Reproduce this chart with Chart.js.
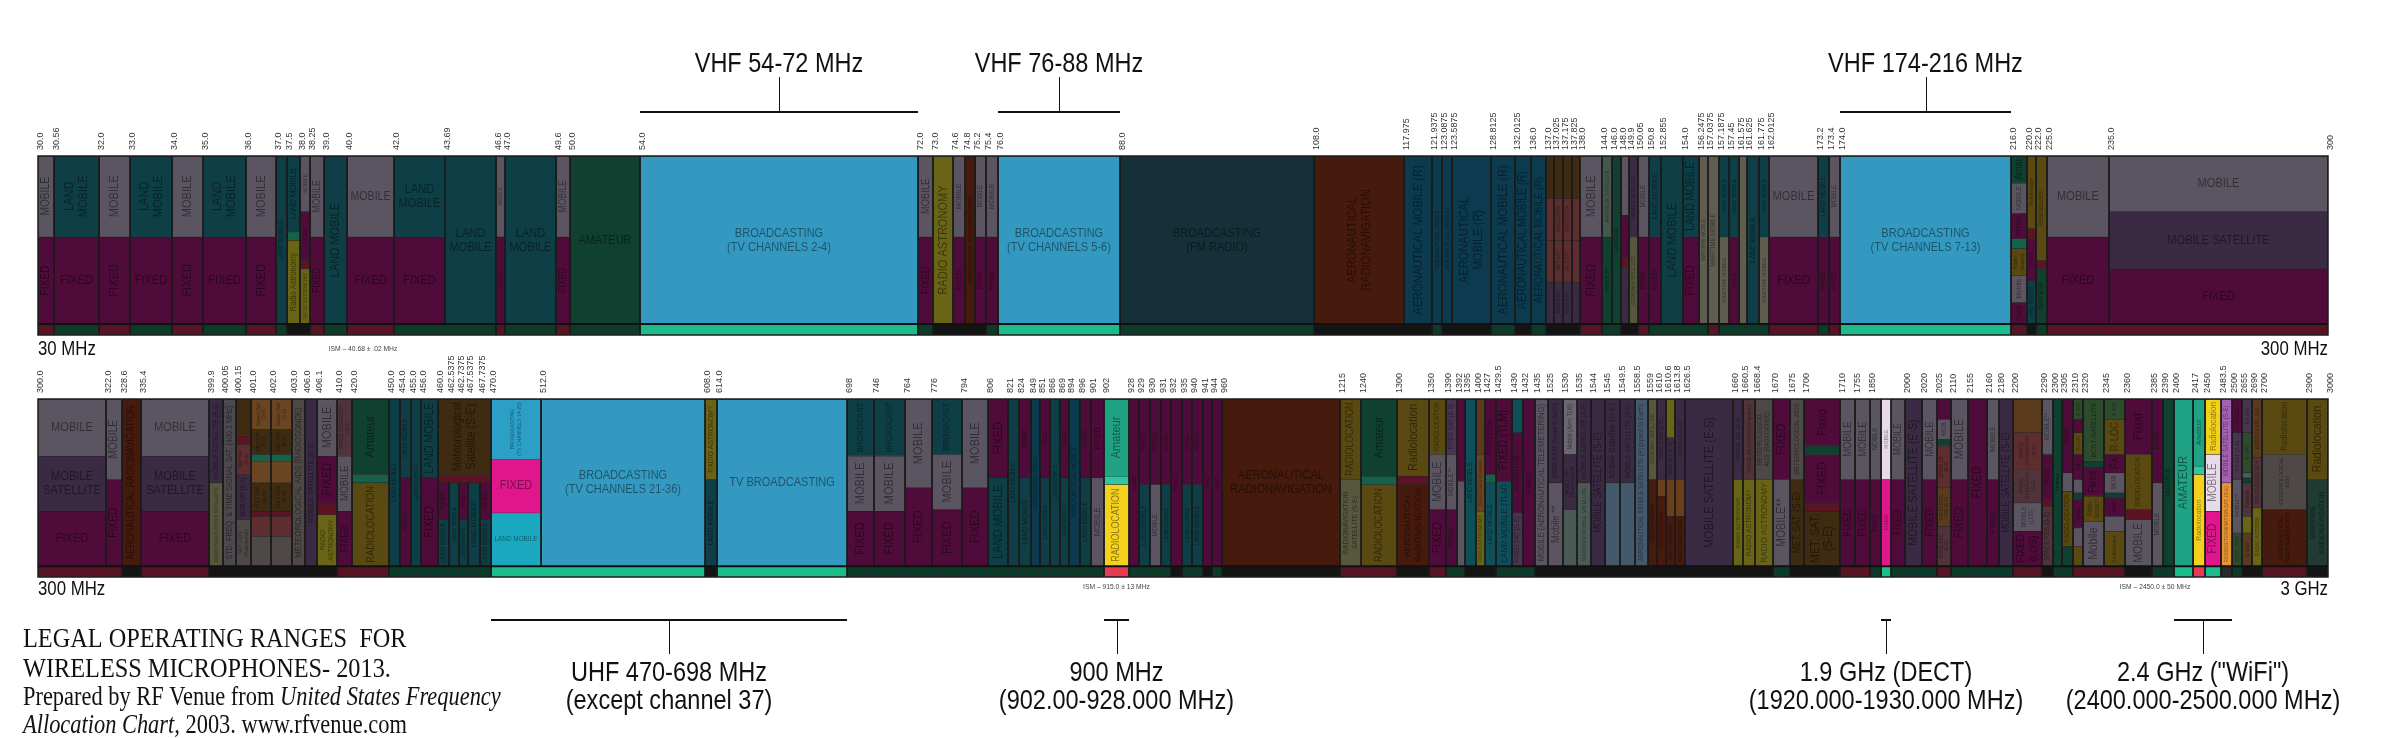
<!DOCTYPE html>
<html><head><meta charset="utf-8">
<script src="https://cdn.jsdelivr.net/npm/chart.js@4.4.1/dist/chart.umd.min.js"></script>
<style>
html,body{margin:0;padding:0;background:#fff;width:2400px;height:738px;overflow:hidden}
canvas{position:absolute;left:0;top:0}
</style></head><body>
<canvas id="top" width="2400" height="738"></canvas>
<canvas id="bot" width="2400" height="738"></canvas>
<script>
// ---------------- DATA ----------------
const topTickLabels = ['30.0','30.56','32.0','33.0','34.0','35.0','36.0','37.0','37.5','38.0','38.25','39.0','40.0','42.0','43.69','46.6','47.0','49.6','50.0','54.0','72.0','73.0','74.6','74.8','75.2','75.4','76.0','88.0','108.0','117.975','121.9375','123.0875','123.5875','128.8125','132.0125','136.0','137.0','137.025','137.175','137.825','138.0','144.0','146.0','148.0','149.9','150.05','150.8','152.855','154.0','156.2475','157.0375','157.1875','157.45','161.575','161.625','161.775','162.0125','173.2','173.4','174.0','216.0','220.0','222.0','225.0','235.0','300'];
const botTickLabels = ['300.0','322.0','328.6','335.4','399.9','400.05','400.15','401.0','402.0','403.0','406.0','406.1','410.0','420.0','450.0','454.0','455.0','456.0','460.0','462.5375','462.7375','467.5375','467.7375','470.0','512.0','608.0','614.0','698','746','764','776','794','806','821','824','849','851','866','869','894','896','901','902','928','929','930','931','932','935','940','941','944','960','1215','1240','1300','1350','1390','1392','1395','1400','1427','1429.5','1430','1432','1435','1525','1530','1535','1544','1545','1549.5','1558.5','1559','1610','1610.6','1613.8','1626.5','1660','1660.5','1668.4','1670','1675','1700','1710','1755','1850','2000','2020','2025','2110','2155','2160','2180','2200','2290','2300','2305','2310','2320','2345','2360','2385','2390','2400','2417','2450','2483.5','2500','2655','2690','2700','2900','3000'];

// allocation cells: [fromMHz, toMHz, shareTop, shareBottom, service, label]
const topCells = [
 [30,30.56,0,.48,'MOB','MOBILE'],[30,30.56,.48,1,'FIX','FIXED'],
 [30.56,32,0,.48,'LMB','LAND\nMOBILE'],[30.56,32,.48,1,'FIX','FIXED'],
 [32,33,0,.48,'MOB','MOBILE'],[32,33,.48,1,'FIX','FIXED'],
 [33,34,0,.48,'LMB','LAND\nMOBILE'],[33,34,.48,1,'FIX','FIXED'],
 [34,35,0,.48,'MOB','MOBILE'],[34,35,.48,1,'FIX','FIXED'],
 [35,36,0,.48,'LMB','LAND\nMOBILE'],[35,36,.48,1,'FIX','FIXED'],
 [36,37,0,.48,'MOB','MOBILE'],[36,37,.48,1,'FIX','FIXED'],
 [37,37.5,0,1,'LMB','LAND MOBILE'],
 [37.5,38,0,.45,'LMB','LAND MOBILE'],[37.5,38,.45,.5,'AMT2',''],[37.5,38,.5,1,'RAS','Radio Astronomy'],
 [38,38.25,0,.33,'MOB','MOBILE'],[38,38.25,.33,.62,'FIX','FIXED'],[38,38.25,.62,.67,'DRD',''],[38,38.25,.67,1,'RAS','RADIO ASTRONOMY'],
 [38.25,39,0,.48,'MOB','MOBILE'],[38.25,39,.48,1,'FIX','FIXED'],
 [39,40,0,1,'LMB','LAND MOBILE'],
 [40,42,0,.48,'MOB','MOBILE'],[40,42,.48,1,'FIX','FIXED'],
 [42,43.69,0,.48,'LMB','LAND\nMOBILE'],[42,43.69,.48,1,'FIX','FIXED'],
 [43.69,46.6,0,1,'LMB','LAND\nMOBILE'],
 [46.6,47,0,.48,'MOB','MOBILE'],[46.6,47,.48,1,'FIX','FIXED'],
 [47,49.6,0,1,'LMB','LAND\nMOBILE'],
 [49.6,50,0,.48,'MOB','MOBILE'],[49.6,50,.48,1,'FIX','FIXED'],
 [50,54,0,1,'AMT','AMATEUR'],
 [54,72,0,1,'BRC','BROADCASTING\n(TV CHANNELS 2-4)'],
 [72,73,0,.48,'MOB','MOBILE'],[72,73,.48,1,'FIX','FIXED'],
 [73,74.6,0,1,'RAS','RADIO ASTRONOMY'],
 [74.6,74.8,0,.48,'MOB','MOBILE'],[74.6,74.8,.48,1,'FIX','FIXED'],
 [74.8,75.2,0,1,'ARN','AERONAUTICAL RADIONAVIGATION'],
 [75.2,75.4,0,.48,'MOB','MOBILE'],[75.2,75.4,.48,1,'FIX','FIXED'],
 [75.4,76,0,.48,'MOB','MOBILE'],[75.4,76,.48,1,'FIX','FIXED'],
 [76,88,0,1,'BRC','BROADCASTING\n(TV CHANNELS 5-6)'],
 [88,108,0,1,'BFM','BROADCASTING\n(FM RADIO)'],
 [108,117.975,0,1,'ARN','AERONAUTICAL\nRADIONAVIGATION'],
 [117.975,121.9375,0,1,'AMR','AERONAUTICAL\nMOBILE (R)'],
 [121.9375,123.0875,0,1,'AMR','AERONAUTICAL MOBILE'],
 [123.0875,123.5875,0,1,'AMR','AERONAUTICAL MOBILE'],
 [123.5875,128.8125,0,1,'AMR','AERONAUTICAL\nMOBILE (R)'],
 [128.8125,132.0125,0,1,'AMR','AERONAUTICAL\nMOBILE (R)'],
 [132.0125,136,0,1,'AMR','AERONAUTICAL MOBILE (R)'],
 [136,137,0,1,'AMR','AERONAUTICAL MOBILE (R)'],
 [137,137.025,0,.25,'MTS',''],[137,137.025,.25,.5,'SPO','SPACE OPN'],[137,137.025,.5,.75,'SPO','MET SAT'],[137,137.025,.75,1,'MSA','MOB SAT'],
 [137.025,137.175,0,.25,'MTS',''],[137.025,137.175,.25,.5,'SPO','SPACE OPN'],[137.025,137.175,.5,.75,'SPO','MET SAT'],[137.025,137.175,.75,1,'MSA','MOB SAT'],
 [137.175,137.825,0,.25,'MTS',''],[137.175,137.825,.25,.5,'SPO','SPACE OPN'],[137.175,137.825,.5,.75,'SPO','MET SAT'],[137.175,137.825,.75,1,'MSA','MOB SAT'],
 [137.825,138,0,.25,'MTS',''],[137.825,138,.25,.5,'SPO','SPACE OPN'],[137.825,138,.5,.75,'SPO','MET SAT'],[137.825,138,.75,1,'MSA','MOB SAT'],
 [138,144,0,.48,'MOB','MOBILE'],[138,144,.48,1,'FIX','FIXED'],
 [144,146,0,.48,'ASA','AMATEUR SATELLITE'],[144,146,.48,1,'AMT','AMATEUR'],
 [146,148,0,1,'AMT','AMATEUR'],
 [148,149.9,0,.35,'MOB','MOBILE'],[148,149.9,.35,.6,'FIX','FIXED'],[148,149.9,.6,.66,'DRD',''],[148,149.9,.66,1,'MSA','MOBILE SAT'],
 [149.9,150.05,0,.48,'MSA','MOBILE SATELLITE'],[149.9,150.05,.48,1,'RNS','RADIONAV-SATELLITE'],
 [150.05,150.8,0,.48,'MOB','MOBILE'],[150.05,150.8,.48,1,'FIX','FIXED'],
 [150.8,152.855,0,.48,'LMB','LAND MOBILE'],[150.8,152.855,.48,1,'FIX','FIXED'],
 [152.855,154,0,1,'LMB','LAND MOBILE'],
 [154,156.2475,0,.48,'LMB','LAND MOBILE'],[154,156.2475,.48,1,'FIX','FIXED'],
 [156.2475,157.0375,0,1,'MAR','MARITIME MOBILE'],
 [157.0375,157.1875,0,1,'MAR','MARITIME MOBILE'],
 [157.1875,157.45,0,.48,'LMB','LAND MOBILE'],[157.1875,157.45,.48,1,'MAR','MARITIME MOBILE'],
 [157.45,161.575,0,.48,'LMB','LAND MOBILE'],[157.45,161.575,.48,1,'FIX','FIXED'],
 [161.575,161.625,0,1,'MAR','MARITIME MOBILE'],
 [161.625,161.775,0,1,'LMB','LAND MOBILE'],
 [161.775,162.0125,0,.48,'LMB','LAND MOBILE'],[161.775,162.0125,.48,1,'MAR','MARITIME MOBILE'],
 [162.0125,173.2,0,.48,'MOB','MOBILE'],[162.0125,173.2,.48,1,'FIX','FIXED'],
 [173.2,173.4,0,.48,'LMB','LAND MOBILE'],[173.2,173.4,.48,1,'FIX','FIXED'],
 [173.4,174,0,.48,'MOB','MOBILE'],[173.4,174,.48,1,'FIX','FIXED'],
 [174,216,0,1,'BRC','BROADCASTING\n(TV CHANNELS 7-13)'],
 [216,220,0,.16,'AMT','Amat'],[216,220,.16,.34,'MOB','MOBILE'],[216,220,.34,.49,'FIX','FIXED'],[216,220,.49,.55,'AMT2',''],[216,220,.55,.71,'RLC','Radio-\nlocation'],[216,220,.71,.87,'MOB','Mobile'],[216,220,.87,1,'FIX','Fixed'],
 [220,222,0,.43,'RLC','Radiolocation'],[220,222,.43,.49,'DRD',''],[220,222,.49,.74,'FIX','FIXED'],[220,222,.74,1,'LMB','LAND MOBILE'],
 [222,225,0,.62,'RLC','Radiolocation'],[222,225,.62,.67,'DRD',''],[222,225,.67,1,'AMT','AMATEUR'],
 [225,235,0,.48,'MOB','MOBILE'],[225,235,.48,1,'FIX','FIXED'],
 [235,300,0,.33,'MOB','MOBILE'],[235,300,.33,.67,'MSA','MOBILE SATELLITE'],[235,300,.67,1,'FIX','FIXED']
];
const botCells = [
 [300,322,0,.34,'MOB','MOBILE'],[300,322,.34,.67,'MSA','MOBILE\nSATELLITE'],[300,322,.67,1,'FIX','FIXED'],
 [322,328.6,0,.48,'MOB','MOBILE'],[322,328.6,.48,1,'FIX','FIXED'],
 [328.6,335.4,0,1,'ARN','AERONAUTICAL RADIONAVIGATION'],
 [335.4,399.9,0,.34,'MOB','MOBILE'],[335.4,399.9,.34,.67,'MSA','MOBILE\nSATELLITE'],[335.4,399.9,.67,1,'FIX','FIXED'],
 [399.9,400.05,0,.5,'MSA','MOBILE SATELLITE (E-S)'],[399.9,400.05,.5,1,'RNS','RADIONAVIGATION SATELLITE'],
 [400.05,400.15,0,1,'STD','STD. FREQ. & TIME SIGNAL SAT. (400.1 MHz)'],
 [400.15,401,0,.22,'MTS',''],[400.15,401,.22,.27,'DRD',''],[400.15,401,.27,.45,'SPO','Met-Sat\n(S-E)'],[400.15,401,.45,.72,'MSA','MOB SAT\n(E-S)'],[400.15,401,.72,1,'MET','MET AIDS\n(Radiosonde)'],
 [401,402,0,.18,'ORB','Space Opn\n(S-E)'],[401,402,.18,.33,'MTS','MET SAT\n(E-S)'],[401,402,.33,.37,'AMT2',''],[401,402,.37,.5,'ORB','EARTH\nEXPL SAT'],[401,402,.5,.67,'MTS','MET SAT\n(E-S)'],[401,402,.67,.7,'DRD',''],[401,402,.7,.82,'SPO','Met-Sat'],[401,402,.82,1,'MET','MET AIDS\n(Radiosonde)'],
 [402,403,0,.18,'ORB','Space Opn\n(S-E)'],[402,403,.18,.33,'MTS','MET SAT\n(E-S)'],[402,403,.33,.37,'AMT2',''],[402,403,.37,.5,'ORB','EARTH\nEXPL SAT'],[402,403,.5,.67,'MTS','MET SAT\n(E-S)'],[402,403,.67,.7,'DRD',''],[402,403,.7,.82,'SPO','Met-Sat'],[402,403,.82,1,'MET','MET AIDS\n(Radiosonde)'],
 [403,406,0,1,'MET','METEOROLOGICAL AIDS (RADIOSONDE)'],
 [406,406.1,0,1,'MSA','MOBILE SATELLITE (E-S)'],
 [406.1,410,0,.34,'MOB','MOBILE'],[406.1,410,.34,.62,'FIX','FIXED'],[406.1,410,.62,.69,'DRD',''],[406.1,410,.69,1,'RAS','RADIO\nASTRONOMY'],
 [410,420,0,.34,'SPR','SPACE RESEARCH\n(S-S)'],[410,420,.34,.67,'MOB','MOBILE'],[410,420,.67,1,'FIX','FIXED'],
 [420,450,0,.45,'AMT','Amateur'],[420,450,.45,.5,'AMT2',''],[420,450,.5,1,'RLC','RADIOLOCATION'],
 [450,454,0,1,'LMB','LAND MOBILE'],
 [454,455,0,.47,'LMB','LAND MOBILE'],[454,455,.47,1,'FIX','FIXED'],
 [455,456,0,1,'LMB','LAND MOBILE'],
 [456,460,0,.47,'LMB','LAND MOBILE'],[456,460,.47,1,'FIX','FIXED'],
 [460,470,0,.45,'MTS','Meteorological\nSatellite (S-E)'],[460,470,.45,.5,'DRD',''],
 [460,462.5375,.5,.72,'FIX','FIXED'],[460,462.5375,.72,1,'LMB','LAND MOBILE'],
 [462.5375,462.7375,.5,1,'LMB','LAND MOBILE'],
 [462.7375,467.5375,.5,.72,'FIX','FIXED'],[462.7375,467.5375,.72,1,'LMB','LAND MOBILE'],
 [467.5375,467.7375,.5,1,'LMB','LAND MOBILE'],
 [467.7375,470,.5,.72,'FIX','FIXED'],[467.7375,470,.72,1,'LMB','LAND MOBILE'],
 [470,512,0,.36,'BBR','BROADCASTING\n(TV CHANNELS 14-20)'],[470,512,.36,.68,'BFX','FIXED'],[470,512,.68,1,'BLM','LAND MOBILE'],
 [512,608,0,1,'BRC','BROADCASTING\n(TV CHANNELS 21-36)'],
 [608,614,0,.48,'RAS','RADIO ASTRONOMY'],[608,614,.48,1,'LMB','LAND MOBILE'],
 [614,698,0,1,'BRC','TV BROADCASTING'],
 [698,746,0,.34,'LMB','BROADCAST'],[698,746,.34,.67,'MOB','MOBILE'],[698,746,.67,1,'FIX','FIXED'],
 [746,764,0,.34,'LMB','BROADCAST'],[746,764,.34,.67,'MOB','MOBILE'],[746,764,.67,1,'FIX','FIXED'],
 [764,776,0,.53,'MOB','MOBILE'],[764,776,.53,1,'FIX','FIXED'],
 [776,794,0,.33,'LMB','BROADCAST'],[776,794,.33,.66,'MOB','MOBILE'],[776,794,.66,1,'FIX','FIXED'],
 [794,806,0,.53,'MOB','MOBILE'],[794,806,.53,1,'FIX','FIXED'],
 [806,821,0,.47,'FIX','FIXED'],[806,821,.47,1,'LMB','LAND MOBILE'],
 [821,824,0,1,'LMB','LAND MOBILE'],
 [824,849,0,.47,'FIX','FIXED'],[824,849,.47,1,'LMB','LAND MOBILE'],
 [849,851,0,1,'AMR','AERONAUTICAL MOBILE'],
 [851,866,0,.47,'FIX','FIXED'],[851,866,.47,1,'LMB','LAND MOBILE'],
 [866,869,0,1,'LMB','LAND MOBILE'],
 [869,894,0,.47,'FIX','FIXED'],[869,894,.47,1,'LMB','LAND MOBILE'],
 [894,896,0,1,'AMR','AERONAUTICAL MOBILE'],
 [896,901,0,.47,'FIX','FIXED'],[896,901,.47,1,'LMB','LAND MOBILE'],
 [901,902,0,.47,'FIX','FIXED'],[901,902,.47,1,'MOB','MOBILE'],
 [902,928,0,.46,'BAM','Amateur'],[902,928,.46,.51,'BAM2',''],[902,928,.51,1,'BRL','RADIOLOCATION'],
 [928,929,0,1,'FIX','FIXED'],
 [929,930,0,.51,'FIX','FIXED'],[929,930,.51,1,'LMB','LAND MOBILE'],
 [930,931,0,.51,'FIX','FIXED'],[930,931,.51,1,'MOB','MOBILE'],
 [931,932,0,.51,'FIX','FIXED'],[931,932,.51,1,'LMB','LAND MOBILE'],
 [932,935,0,1,'FIX','FIXED'],
 [935,940,0,.51,'FIX','FIXED'],[935,940,.51,1,'LMB','LAND MOBILE'],
 [940,941,0,.51,'FIX','FIXED'],[940,941,.51,1,'LMB','LAND MOBILE'],
 [941,944,0,1,'FIX','FIXED'],
 [944,960,0,1,'FIX','FIXED'],
 [960,1215,0,1,'ARN','AERONAUTICAL\nRADIONAVIGATION'],
 [1215,1240,0,.48,'RLC','RADIOLOCATION'],[1215,1240,.48,1,'RNS','RADIONAVIGATION\nSATELLITE (S-E)'],
 [1240,1300,0,.46,'AMT','Amateur'],[1240,1300,.46,.51,'AMT2',''],[1240,1300,.51,1,'RLC','RADIOLOCATION'],
 [1300,1350,0,.46,'RLC','Radiolocation'],[1300,1350,.46,.51,'DRD',''],[1300,1350,.51,1,'ARN','AERONAUTICAL\nRADIONAVIGATION'],
 [1350,1390,0,.33,'RLC','RADIOLOCATION'],[1350,1390,.33,.66,'MOB','MOBILE'],[1350,1390,.66,1,'FIX','FIXED'],
 [1390,1392,0,.33,'FXS','FIXED SAT (E-S)'],[1390,1392,.33,.66,'MOB','MOBILE **'],[1390,1392,.66,1,'FIX','FIXED'],
 [1392,1395,0,.49,'FIX','FIXED'],[1392,1395,.49,1,'MOB','MOBILE **'],
 [1395,1400,0,1,'LMB2','LAND MOBILE'],
 [1400,1427,0,.33,'EES','EARTH EXPL SAT (Passive)'],[1400,1427,.33,.67,'ORB','SPACE RES (Passive)'],[1400,1427,.67,1,'RAS','RADIO ASTRONOMY'],
 [1427,1429.5,0,.45,'FIX','FIXED (TLM)'],[1427,1429.5,.45,.5,'AMT2',''],[1427,1429.5,.5,1,'LMB2','LAND MOBILE'],
 [1429.5,1430,0,.49,'FIX','FIXED (TLM)'],[1429.5,1430,.49,1,'LMB2','LAND MOBILE (TLM)'],
 [1430,1432,0,.2,'LMB2',''],[1430,1432,.2,.68,'FIX','FIXED (TLM)'],[1430,1432,.68,1,'FXS','FIXED SAT (S-E)'],
 [1432,1435,0,1,'FIX','FIXED'],
 [1435,1525,0,1,'MOB','MOBILE (AERONAUTICAL TELEMETERING)'],
 [1525,1530,0,.5,'MSA','MOBILE SAT\n(Space to Earth)'],[1525,1530,.5,1,'MOB','Mobile **'],
 [1530,1535,0,.33,'MOBL','Mobile\n(Aero TLM)'],[1530,1535,.33,.66,'MSA','MOBILE SAT\n(Space to Earth)'],[1530,1535,.66,1,'MMS','MARITIME MOBILE SATELLITE'],
 [1535,1544,0,.5,'MSA','MOBILE SATELLITE (S-E)'],[1535,1544,.5,1,'MMS','MARITIME MOBILE SATELLITE'],
 [1544,1545,0,1,'MSA','MOBILE SATELLITE (S-E)'],
 [1545,1549.5,0,.5,'MSA','Mobile Satellite (S-E)'],[1545,1549.5,.5,1,'AMS','AERONAUTICAL MOBILE SATELLITE (R)'],
 [1549.5,1558.5,0,.5,'MSA','MOBILE SATELLITE (S-E)'],[1549.5,1558.5,.5,1,'AMS','AERONAUTICAL MOBILE SATELLITE (R)'],
 [1558.5,1559,0,1,'AMS','AERONAUTICAL MOBILE SATELLITE (R) (space to Earth)'],
 [1559,1610,0,.48,'RNS','RADIONAV SATELLITE'],[1559,1610,.48,1,'ARN','AERO RADIONAV'],
 [1610,1610.6,0,.48,'MSA','MOBILE SAT (E-S)'],[1610,1610.6,.48,.58,'RDS',''],[1610,1610.6,.58,1,'ARN','AERO RADIONAV'],
 [1610.6,1613.8,0,.23,'RAS','RADIO ASTRONOMY'],[1610.6,1613.8,.23,.48,'MSA','MOB SAT (E-S)'],[1610.6,1613.8,.48,.7,'RDS','RADIODET SAT (E-S)'],[1610.6,1613.8,.7,1,'ARN','AERO RADIONAV'],
 [1613.8,1626.5,0,.48,'MSA','MOB SAT (E-S)'],[1613.8,1626.5,.48,.7,'RDS','RADIODET SAT (E-S)'],[1613.8,1626.5,.7,1,'ARN','AERO RADIONAV'],
 [1626.5,1660,0,1,'MSA','MOBILE SATELLITE (E-S)'],
 [1660,1660.5,0,.48,'MSA','MOBILE SAT (E-S)'],[1660,1660.5,.48,1,'RAS','RADIO ASTRONOMY'],
 [1660.5,1668.4,0,.48,'SPR','SPACE RESEARCH (Passive)'],[1660.5,1668.4,.48,1,'RAS','RADIO ASTRONOMY'],
 [1668.4,1670,0,.48,'MET','METEOROLOGICAL\nAIDS (RADIOSONDE)'],[1668.4,1670,.48,1,'RAS','RADIO ASTRONOMY'],
 [1670,1675,0,.48,'FIX','FIXED'],[1670,1675,.48,1,'MOB','MOBILE**'],
 [1675,1700,0,.48,'MET','METEOROLOGICAL\nAIDS'],[1675,1700,.48,1,'MTS','MET. SAT. (S-E)'],
 [1700,1710,0,.28,'FIX','Fixed'],[1700,1710,.28,.33,'AMT',''],[1700,1710,.33,.62,'FIX','FIXED'],[1700,1710,.62,.67,'DRD',''],[1700,1710,.67,1,'MTS','MET. SAT.\n(S-E)'],
 [1710,1755,0,.48,'MOB','MOBILE'],[1710,1755,.48,1,'FIX','FIXED'],
 [1755,1850,0,.48,'MOB','MOBILE'],[1755,1850,.48,1,'FIX','FIXED'],
 [1850,1920,0,.48,'MOB','MOBILE'],[1850,1920,.48,1,'FIX','FIXED'],
 [1920,1930,0,.48,'BMO','MOBILE'],[1920,1930,.48,1,'BFX','FIXED'],
 [1930,2000,0,.48,'MOB','MOBILE'],[1930,2000,.48,1,'FIX','FIXED'],
 [2000,2020,0,1,'MSA','MOBILE SATELLITE (E-S)'],
 [2020,2025,0,.48,'MOB','MOBILE'],[2020,2025,.48,1,'FIX','FIXED'],
 [2025,2110,0,.12,'FIX',''],[2025,2110,.12,.24,'MOB','MOB'],[2025,2110,.24,.28,'AMT',''],[2025,2110,.28,.53,'SPO','SPACE OP.\n(E-S)'],[2025,2110,.53,.76,'EES','EARTH EXPL.\nSAT. (E-S)'],[2025,2110,.76,1,'SPR','SPACE RES.\n(E-S)'],
 [2110,2155,0,.48,'MOB','MOBILE'],[2110,2155,.48,1,'FIX','FIXED'],
 [2155,2160,0,1,'FIX','FIXED'],
 [2160,2180,0,.48,'MOB','MOBILE'],[2160,2180,.48,1,'FIX','FIXED'],
 [2180,2200,0,1,'MSA','MOBILE SATELLITE (S-E)'],
 [2200,2290,0,.2,'EES','EARTH\nEXPLORATION\nSAT. (S-S)'],[2200,2290,.2,.42,'SPO','SPACE\nOPERATION\n(S-E)'],[2200,2290,.42,.62,'SPR','SPACE\nRESEARCH\n(S-E)'],[2200,2290,.62,.79,'MOB','MOBILE\n(LOS)'],[2200,2290,.79,1,'FIX','FIXED\n(LOS)'],
 [2290,2300,0,.33,'MOB','MOBILE**'],[2290,2300,.33,.6,'FIX','FIXED'],[2290,2300,.6,.64,'DRD',''],[2290,2300,.64,1,'SPR','SPACE RES (S-E)'],
 [2300,2305,0,1,'AMT','Amateur'],
 [2305,2310,0,.44,'FIX','FIXED'],[2305,2310,.44,.55,'MOB','MOBILE**'],[2305,2310,.55,.88,'RLC','RADIOLOCATION'],[2305,2310,.88,1,'AMT','Amateur'],
 [2310,2320,0,.12,'BST','B-SAT'],[2310,2320,.12,.2,'FIX',''],[2310,2320,.2,.33,'RLC','R-LOC'],[2310,2320,.33,.48,'FIX','FX'],[2310,2320,.48,.56,'MOB','MOB'],[2310,2320,.56,.6,'AMT',''],[2310,2320,.6,.77,'FIX','Fixed'],[2310,2320,.77,.88,'MOB','Mobile'],[2310,2320,.88,1,'RLC','Radiolocation'],
 [2320,2345,0,.37,'BST','BCST-SATELLITE'],[2320,2345,.37,.41,'AMT',''],[2320,2345,.41,.58,'FIX','Fixed'],[2320,2345,.58,.73,'RLC','Radio-\nlocation'],[2320,2345,.73,1,'MOB','Mobile'],
 [2345,2360,0,.12,'BST','B-SAT'],[2345,2360,.12,.33,'RLC','R-LOC'],[2345,2360,.33,.44,'FIX','FX'],[2345,2360,.44,.56,'MOB','MOB'],[2345,2360,.56,.59,'AMT',''],[2345,2360,.59,.7,'FIX','Fixed'],[2345,2360,.7,.79,'MOB','Mobile'],[2345,2360,.79,1,'RLC','Radiolocation'],
 [2360,2385,0,.33,'FIX','Fixed'],[2360,2385,.33,.66,'RLC','RADIOLOCATION'],[2360,2385,.66,.72,'DRD',''],[2360,2385,.72,1,'MOB','MOBILE'],
 [2385,2390,0,.5,'FIX','FIXED'],[2385,2390,.5,1,'MOB','MOBILE'],
 [2390,2400,0,1,'AMT','AMATEUR'],
 [2400,2417,0,1,'BAM','AMATEUR'],
 [2417,2450,0,.4,'BAM','Amateur'],[2417,2450,.4,.45,'BAM2',''],[2417,2450,.45,1,'BRL','Radiolocation'],
 [2450,2483.5,0,.33,'BRL','Radiolocation'],[2450,2483.5,.33,.67,'BMO','MOBILE'],[2450,2483.5,.67,1,'BFX','FIXED'],
 [2483.5,2500,0,.5,'BMS','MOBILE SATELLITE (S-E)'],[2483.5,2500,.5,1,'BRD','RADIODETERMINATION SAT. (S-E)'],
 [2500,2655,0,.2,'FIX','FIXED'],[2500,2655,.2,.48,'FXS','FX SAT (S-E)'],[2500,2655,.48,.8,'MOB','MOBILE**'],[2500,2655,.8,1,'BST','BCST - SAT'],
 [2655,2690,0,.2,'FXS','FX SAT'],[2655,2690,.2,.44,'BST','B-SAT'],[2655,2690,.44,.47,'MOB',''],[2655,2690,.47,.5,'AMT',''],[2655,2690,.5,.7,'SPR','Passive'],[2655,2690,.7,.8,'RAS',''],[2655,2690,.8,1,'EES','E-Expl'],
 [2690,2700,0,.35,'EES','EARTH EXPL SAT'],[2690,2700,.35,.65,'SPR','SPACE RESEARCH'],[2690,2700,.65,1,'RAS','RADIO ASTRON'],
 [2700,2900,0,.33,'RLC','Radiolocation'],[2700,2900,.33,.66,'MET','METEOROLOGICAL\nAIDS'],[2700,2900,.66,1,'ARN','AERONAUTICAL\nRADIONAVIGATION'],
 [2900,3000,0,.48,'RLC','Radiolocation'],[2900,3000,.48,1,'MRN','MARITIME\nRADIONAVIGATION']
];
// activity strip under each band: [from, to, category]
const topStripBands = [[30,30.56,'DR'],[30.56,32,'DG'],[32,33,'DR'],[33,34,'DG'],[34,35,'DR'],[35,36,'DG'],[36,37,'DR'],[37,37.5,'DG'],[37.5,38.25,'BK'],[38.25,39,'DR'],[39,40,'DG'],[40,42,'DR'],[42,46.6,'DG'],[46.6,47,'DR'],[47,49.6,'DG'],[49.6,50,'DR'],[50,54,'DG'],[54,72,'SG'],[72,73,'DG'],[73,75.4,'BK'],[75.4,76,'DG'],[76,88,'SG'],[88,108,'DG'],[108,121.9375,'BK'],[121.9375,123.0875,'DG'],[123.0875,128.8125,'BK'],[128.8125,132.0125,'DG'],[132.0125,136,'BK'],[136,137,'DG'],[137,138,'BK'],[138,144,'DR'],[144,148,'DG'],[148,150.05,'BK'],[150.05,150.8,'DR'],[150.8,157.0375,'DG'],[157.0375,157.1875,'DR'],[157.1875,162.0125,'DG'],[162.0125,173.2,'DR'],[173.2,173.4,'DG'],[173.4,174,'DR'],[174,216,'SG'],[216,220,'DR'],[220,222,'BK'],[222,225,'DG'],[225,300,'DR']];
const botStripBands = [[300,328.6,'DR'],[328.6,335.4,'BK'],[335.4,399.9,'DR'],[399.9,410,'BK'],[410,450,'DR'],[450,470,'DG'],[470,608,'SG'],[608,614,'BK'],[614,698,'SG'],[698,902,'DG'],[902,928,'LR'],[928,932,'DG'],[932,935,'BK'],[935,941,'DG'],[941,944,'BK'],[944,960,'DG'],[960,1215,'BK'],[1215,1300,'DR'],[1300,1350,'BK'],[1350,1390,'DR'],[1390,1395,'DG'],[1395,1429.5,'BK'],[1429.5,1435,'DG'],[1435,1670,'BK'],[1670,1675,'DG'],[1675,1710,'BK'],[1710,1850,'DR'],[1850,1920,'DG'],[1920,1930,'SG'],[1930,2025,'DG'],[2025,2110,'DR'],[2110,2200,'DG'],[2200,2290,'DR'],[2290,2300,'BK'],[2300,2310,'DG'],[2310,2360,'DR'],[2360,2385,'BK'],[2385,2400,'DG'],[2400,2417,'SG'],[2417,2450,'LR'],[2450,2483.5,'SG'],[2483.5,2500,'GR'],[2500,2655,'DG'],[2655,2700,'BK'],[2700,2900,'DR'],[2900,3000,'BK']];

const topRanges = [[54,72],[76,88],[174,216]];
const topRangeTitles = ['VHF 54-72 MHz','VHF 76-88 MHz','VHF 174-216 MHz'];
const botRanges = [[470,698],[902,928],[1920,1930],[2400,2500]];
const botRangeTitles = [['UHF 470-698 MHz','(except channel 37)'],['900 MHz','(902.00-928.000 MHz)'],['1.9 GHz (DECT)','(1920.000-1930.000 MHz)'],['2.4 GHz ("WiFi")','(2400.000-2500.000 MHz)']];
const ismTop = [[40.68,'ISM – 40.68 ± .02 MHz']];
const ismBot = [[915,'ISM – 915.0 ± 13 MHz'],[2450,'ISM – 2450.0 ± 50 MHz']];

// ---------------- STYLE / LAYOUT ----------------
const COLORS = {
 MOB:'#5b5561', FIX:'#4f0c3a', LMB:'#0e3f47', LMB2:'#0f4f5a', AMT:'#10402f', AMT2:'#17604a', BRC:'#3399c1', BFM:'#16303a', ARN:'#461a0d', AMR:'#0c3b50', RAS:'#6a6416', MSA:'#3b2a43', MAR:'#5f5d4f', RLC:'#5a4a12', MET:'#4e4946', MTS:'#3e2b12', RNS:'#57573d', SPR:'#50333b', SPO:'#5e2d30', ORB:'#6a4522', STD:'#4c4a4f', ASA:'#46574c', DRD:'#5c1424', FXS:'#4a3550', EES:'#5a3b1d', BST:'#2f4b2d', MMS:'#4a5a55', AMS:'#44596b', MOBL:'#6b6672', RDS:'#6a3f1c', MRN:'#1f3b34',
 BFX:'#e0168c', BRL:'#f3d11c', BAM:'#1fa384', BAM2:'#2fc79f', BMO:'#e8dbe9', BLM:'#19a8c0', BBR:'#2c9fc6', BMS:'#a562b2', BRD:'#e69434',
 SG:'#1dbd8b', DG:'#0e3a2a', DR:'#561424', BK:'#141414', LR:'#e63b52', GR:'#2b2b2b'
};
// non-uniform band axis of the original chart: [MHz, offset along axis]
const WARP = {
 top: [[30,0],[30.56,16],[32,61],[33,92],[34,134],[35,165],[36,208],[37,238],[37.5,249],[38,262],[38.25,272],[39,286],[40,309],[42,356],[43.69,407],[46.6,458],[47,467],[49.6,518],[50,532],[54,602],[72,880],[73,895],[74.6,915],[74.8,927],[75.2,937],[75.4,948],[76,960],[88,1082],[108,1276],[117.975,1366],[121.9375,1394],[123.0875,1404],[123.5875,1414],[128.8125,1453],[132.0125,1477],[136,1493],[137,1508],[137.025,1516],[137.175,1525],[137.825,1534],[138,1542],[144,1564],[146,1574],[148,1583],[149.9,1591],[150.05,1600],[150.8,1611],[152.855,1623],[154,1645],[156.2475,1661],[157.0375,1670],[157.1875,1681],[157.45,1691],[161.575,1701],[161.625,1709],[161.775,1721],[162.0125,1731],[173.2,1780],[173.4,1791],[174,1802],[216,1973],[220,1989],[222,1998],[225,2009],[235,2071],[300,2290]],
 bot: [[300,0],[322,68],[328.6,84],[335.4,103],[399.9,171],[400.05,185],[400.15,198],[401,213],[402,233],[403,254],[406,267],[406.1,279],[410,299],[420,314],[450,351],[454,362],[455,373],[456,383],[460,400],[462.5375,411],[462.7375,421],[467.5375,430],[467.7375,442],[470,453],[512,503],[608,667],[614,679],[698,809],[746,836],[764,867],[776,894],[794,924],[806,950],[821,970],[824,981],[849,993],[851,1002],[866,1012],[869,1022],[894,1031],[896,1042],[901,1053],[902,1066],[928,1091],[929,1101],[930,1112],[931,1123],[932,1133],[935,1144],[940,1154],[941,1165],[944,1174],[960,1184],[1215,1302],[1240,1323],[1300,1359],[1350,1391],[1390,1408],[1392,1419],[1395,1427],[1400,1438],[1427,1447],[1429.5,1458],[1430,1474],[1432,1485],[1435,1497],[1525,1510],[1530,1525],[1535,1539],[1544,1553],[1545,1567],[1549.5,1582],[1558.5,1597],[1559,1610],[1610,1619],[1610.6,1628],[1613.8,1637],[1626.5,1647],[1660,1695],[1660.5,1705],[1668.4,1717],[1670,1735],[1675,1752],[1700,1766],[1710,1802],[1755,1817],[1850,1832],[1920,1843],[1930,1853],[2000,1867],[2020,1884],[2025,1899],[2110,1913],[2155,1930],[2160,1949],[2180,1961],[2200,1975],[2290,2004],[2300,2015],[2305,2024],[2310,2035],[2320,2045],[2345,2066],[2360,2087],[2385,2114],[2390,2125],[2400,2136],[2417,2155],[2450,2167],[2483.5,2183],[2500,2194],[2655,2204],[2690,2214],[2700,2224],[2900,2269],[3000,2290]]
};
const STRIP_MAX = 1.065;  // activity strip sits below share 1.0
const SX = 0.85;          // condensed lettering
const SANS = '"Liberation Sans", Arial, sans-serif';
const SERIF = '"Liberation Serif", "Times New Roman", serif';
const TICK_FONT = 9;

function warpFwd(t, v) {
  const n = t.length, tot = t[n-1][1];
  if (v <= t[0][0]) return (t[0][1] + (v - t[0][0]) * (t[1][1]-t[0][1])/(t[1][0]-t[0][0])) / tot;
  for (let i = 0; i < n-1; i++) {
    if (v <= t[i+1][0]) { const r = (v - t[i][0])/(t[i+1][0]-t[i][0]); return (t[i][1] + r*(t[i+1][1]-t[i][1]))/tot; }
  }
  return 1 + (v - t[n-1][0]) * (t[n-1][1]-t[n-2][1])/(t[n-1][0]-t[n-2][0]) / tot;
}
function warpInv(t, d) {
  const n = t.length, tot = t[n-1][1], o = d*tot;
  for (let i = 0; i < n-1; i++) {
    if (o <= t[i+1][1]) { const r = (o - t[i][1])/(t[i+1][1]-t[i][1]); return t[i][0] + r*(t[i+1][0]-t[i][0]); }
  }
  return t[n-1][0];
}
class WarpScale extends Chart.LinearScale {
  static id = 'warp';
  _tbl() { return WARP[this.chart.canvas.id]; }
  getPixelForValue(v) {
    if (v === null || v === undefined || isNaN(v)) return NaN;
    return this.getPixelForDecimal(warpFwd(this._tbl(), v));
  }
  getValueForPixel(p) { return warpInv(this._tbl(), this.getDecimalForPixel(p)); }
}
Chart.register(WarpScale);
Chart.defaults.font.family = SANS;

function rectDataset(f1, f2, y0, y1, color) {
  return {
    data: [{x:f1,y:y1},{x:f1,y:y0},{x:f2,y:y0},{x:f2,y:y1}],
    fill: {value: y1}, backgroundColor: color,
    borderColor: '#1b1b1b', borderWidth: 1, pointRadius: 0, pointHitRadius: 0, tension: 0
  };
}

function fitSize(ctx, lines, maxLen, maxThick) {
  for (let s = 13; s >= 5; s -= 0.5) {
    ctx.font = s + 'px ' + SANS;
    const len = Math.max(...lines.map(l => ctx.measureText(l).width)) * SX;
    if (len <= maxLen && lines.length * s * 1.08 <= maxThick) return s;
  }
  return 0;
}
function drawCellLabel(ctx, text, x1, x2, yA, yB) {
  const w = x2 - x1, h = yB - yA;
  if (!text || w < 5 || h < 10) return;
  const variants = [text.split('\n')];
  if (text.includes('\n')) variants.push([text.replace(/\n/g, ' ')]);
  let best = null;
  for (const lines of variants) {
    const sh = w >= 40 ? fitSize(ctx, lines, w - 6, h - 6) : 0;
    if (sh && (!best || sh > best.s)) best = {s: sh, v: false, lines};
    const sv = fitSize(ctx, lines, h - 6, w - 3);
    if (sv && (!best || sv > best.s + 0.5)) best = {s: sv, v: true, lines};
  }
  if (!best) return;
  ctx.save();
  ctx.translate((x1 + x2) / 2, (yA + yB) / 2);
  if (best.v) ctx.rotate(-Math.PI / 2);
  ctx.scale(SX, 1);
  ctx.font = best.s + 'px ' + SANS;
  ctx.fillStyle = 'rgba(0,0,0,0.45)';
  ctx.textAlign = 'center'; ctx.textBaseline = 'middle';
  const n = best.lines.length;
  best.lines.forEach((l, i) => ctx.fillText(l, 0, (i - (n - 1) / 2) * best.s * 1.08));
  ctx.restore();
}

function condText(ctx, txt, x, y, font, align, sx, color) {
  ctx.save();
  ctx.font = font; ctx.fillStyle = color || '#111';
  ctx.textBaseline = 'alphabetic';
  const w = ctx.measureText(txt).width * sx;
  let left = x;
  if (align === 'center') left = x - w / 2; else if (align === 'right') left = x - w;
  ctx.translate(left, y); ctx.scale(sx, 1);
  ctx.textAlign = 'left';
  ctx.fillText(txt, 0, 0);
  ctx.restore();
  return w;
}

function stripPlugin(cells) {
  return {
    id: 'stripDecor',
    afterDatasetsDraw(chart) {
      const {ctx, chartArea: a, scales: {x, y}} = chart;
      for (const c of cells) {
        drawCellLabel(ctx, c[5], x.getPixelForValue(c[0]), x.getPixelForValue(c[1]), y.getPixelForValue(c[2]), y.getPixelForValue(c[3]));
      }
      ctx.save();
      ctx.strokeStyle = '#111'; ctx.lineWidth = 2;
      const yl = y.getPixelForValue(1);
      ctx.beginPath(); ctx.moveTo(a.left, yl); ctx.lineTo(a.right, yl); ctx.stroke();
      ctx.lineWidth = 1.5; ctx.strokeStyle = '#1e1e1e';
      ctx.strokeRect(a.left, a.top, a.right - a.left, a.bottom - a.top);
      ctx.restore();
    }
  };
}

const topAnnot = {
  id: 'topAnnot',
  afterDraw(chart) {
    const {ctx, chartArea: a, scales: {x}} = chart;
    ctx.save();
    topRanges.forEach((r, i) => {
      const x1 = x.getPixelForValue(r[0]), x2 = x.getPixelForValue(r[1]), cx = (x1 + x2) / 2;
      ctx.strokeStyle = '#111';
      ctx.lineWidth = 2; ctx.beginPath(); ctx.moveTo(x1, a.top - 44); ctx.lineTo(x2, a.top - 44); ctx.stroke();
      ctx.lineWidth = 1; ctx.beginPath(); ctx.moveTo(Math.round(cx) + 0.5, a.top - 79); ctx.lineTo(Math.round(cx) + 0.5, a.top - 44); ctx.stroke();
      condText(ctx, topRangeTitles[i], cx, a.top - 84, '28px ' + SANS, 'center', 0.84);
    });
    condText(ctx, '30 MHz', a.left, a.bottom + 20, '20px ' + SANS, 'left', 0.84);
    condText(ctx, '300 MHz', a.right, a.bottom + 20, '20px ' + SANS, 'right', 0.84);
    ismTop.forEach(m => condText(ctx, m[1], x.getPixelForValue(m[0]), a.bottom + 16, '8px ' + SANS, 'center', 0.84, '#444'));
    ctx.restore();
  }
};
const ismShift = [0, -50];
const botAnnot = {
  id: 'botAnnot',
  afterDraw(chart) {
    const {ctx, chartArea: a, scales: {x}} = chart;
    ctx.save();
    botRanges.forEach((r, i) => {
      const x1 = x.getPixelForValue(r[0]), x2 = x.getPixelForValue(r[1]), cx = (x1 + x2) / 2;
      ctx.strokeStyle = '#111';
      ctx.lineWidth = 2; ctx.beginPath(); ctx.moveTo(x1, a.bottom + 43); ctx.lineTo(x2, a.bottom + 43); ctx.stroke();
      ctx.lineWidth = 1; ctx.beginPath(); ctx.moveTo(Math.round(cx) + 0.5, a.bottom + 43); ctx.lineTo(Math.round(cx) + 0.5, a.bottom + 77); ctx.stroke();
      condText(ctx, botRangeTitles[i][0], cx, a.bottom + 104, '28px ' + SANS, 'center', 0.84);
      condText(ctx, botRangeTitles[i][1], cx, a.bottom + 132, '28px ' + SANS, 'center', 0.84);
    });
    condText(ctx, '300 MHz', a.left, a.bottom + 18, '20px ' + SANS, 'left', 0.84);
    condText(ctx, '3 GHz', a.right, a.bottom + 18, '20px ' + SANS, 'right', 0.84);
    ismBot.forEach((m, i) => condText(ctx, m[1], x.getPixelForValue(m[0]) + ismShift[i], a.bottom + 12, '8px ' + SANS, 'center', 0.84, '#444'));
    // credit block
    const L = 23, f = '27px ' + SERIF, fi = 'italic 27px ' + SERIF, sxA = 0.9, sxB = 0.83;
    condText(ctx, 'LEGAL OPERATING RANGES  FOR', L, a.bottom + 70, f, 'left', sxA);
    condText(ctx, 'WIRELESS MICROPHONES- 2013.', L, a.bottom + 100, f, 'left', sxA);
    let w = condText(ctx, 'Prepared by RF Venue from ', L, a.bottom + 128, f, 'left', sxB);
    condText(ctx, 'United States Frequency', L + w, a.bottom + 128, fi, 'left', sxB);
    w = condText(ctx, 'Allocation Chart,', L, a.bottom + 156, fi, 'left', sxB);
    condText(ctx, ' 2003. www.rfvenue.com', L + w, a.bottom + 156, f, 'left', sxB);
    ctx.restore();
  }
};

function buildChart(id, cells, strip, ticks, min, max, padTop, padBottom, annot) {
  const datasets = [];
  for (const c of cells) datasets.push(rectDataset(c[0], c[1], c[2], c[3], COLORS[c[4]]));
  for (const s of strip) datasets.push(rectDataset(s[0], s[1], 1, STRIP_MAX, COLORS[s[2]]));
  return new Chart(document.getElementById(id), {
    type: 'line',
    data: {datasets},
    options: {
      responsive: false, animation: false, events: [],
      layout: {padding: {left: 38, right: 72, top: padTop, bottom: padBottom}},
      plugins: {legend: {display: false}, tooltip: {enabled: false}, title: {display: false}},
      scales: {
        x: {
          type: 'warp', position: 'top', min, max,
          grid: {display: false, drawTicks: false}, border: {display: false},
          afterBuildTicks: s => { s.ticks = ticks.map(t => ({value: parseFloat(t)})); },
          afterFit: s => { s.height = 56; },
          ticks: {autoSkip: false, minRotation: 90, maxRotation: 90, padding: 6, color: '#333',
                  labelOffset: Math.round(TICK_FONT * 1.2) + 2,
                  font: {size: TICK_FONT, family: SANS}, callback: (v, i) => ticks[i]}
        },
        y: {type: 'linear', min: 0, max: STRIP_MAX, reverse: true, display: false}
      }
    },
    plugins: [stripPlugin(cells), annot]
  });
}

buildChart('top', topCells, topStripBands, topTickLabels, 30, 300, 100, 403, topAnnot);
buildChart('bot', botCells, botStripBands, botTickLabels, 300, 3000, 343, 161, botAnnot);
</script></body></html>
